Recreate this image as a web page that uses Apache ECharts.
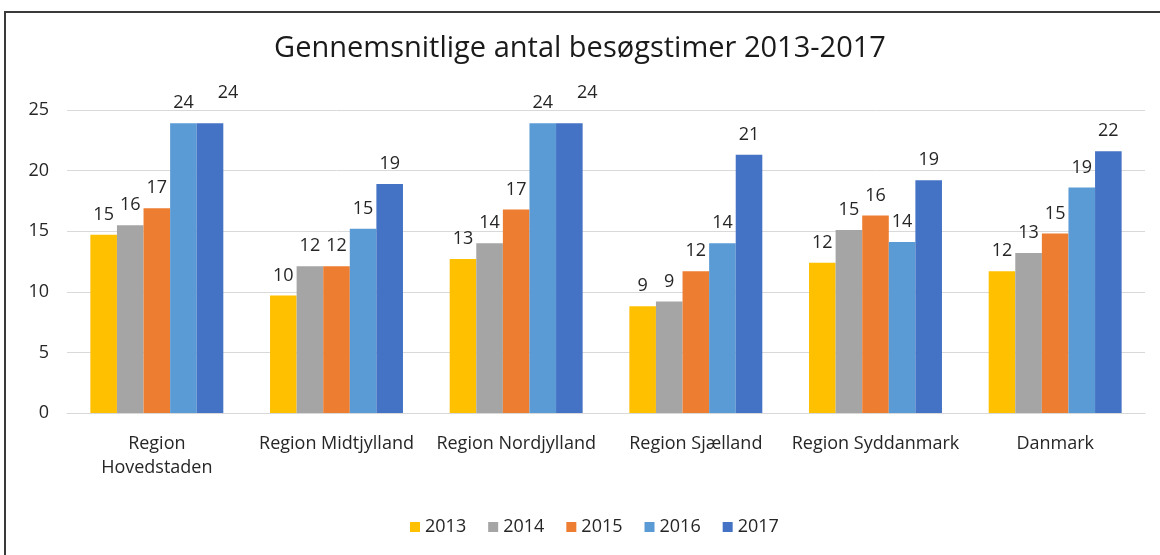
<!DOCTYPE html>
<html>
<head>
<meta charset="utf-8">
<script src="https://cdn.jsdelivr.net/npm/echarts@6/dist/echarts.min.js"></script>
<style>
  html, body { margin: 0; padding: 0; background: #fff; }
  #wrap { position: relative; width: 1160px; height: 555px; overflow: hidden; }
  #frame { position: absolute; left: 4px; top: 11px; width: 1200px; height: 600px;
           border-top: 2px solid #3a3a3a; border-left: 2px solid #3a3a3a; }
  #chart { position: absolute; left: 0; top: 0; width: 1160px; height: 555px; }
</style>
</head>
<body>
<div id="wrap">
  <div id="frame"></div>
  <div id="chart"></div>
</div>
<script>
// regions
const categories = ['Region Hovedstaden', 'Region Midtjylland', 'Region Nordjylland',
  'Region Sjælland', 'Region Syddanmark', 'Danmark'];
const years = ['2013', '2014', '2015', '2016', '2017'];

// average visit hours per year
const y2013 = [14.7, 9.7, 12.7, 8.8, 12.4, 11.7];
const y2014 = [15.5, 12.1, 14.0, 9.2, 15.1, 13.2];
const y2015 = [16.9, 12.1, 16.8, 11.7, 16.3, 14.8];
const y2016 = [23.9, 15.2, 23.9, 14.0, 14.1, 18.6];
const y2017 = [23.9, 18.9, 23.9, 21.3, 19.2, 21.6];

const yTicks = [0, 5, 10, 15, 20, 25];

const colors = ['#FFC000', '#A5A5A5', '#ED7D31', '#5B9BD5', '#4472C4'];
const font = '"Open Sans", "DejaVu Sans", sans-serif';
const textColor = '#262626';

const allData = [y2013, y2014, y2015, y2016, y2017];

// when two neighbouring bars have the same height, nudge the second label away
function seriesData(i) {
  return allData[i].map((v, k) => {
    if (i > 0 && Math.round(allData[i - 1][k]) === Math.round(v) && v > 20) {
      return { value: v, label: { offset: [18, -10] } };
    }
    return v;
  });
}

const chart = echarts.init(document.getElementById('chart'));
chart.setOption({
  color: colors,
  animation: false,
  title: {
    text: 'Gennemsnitlige antal besøgstimer 2013-2017',
    left: 'center',
    top: 29,
    textStyle: { fontFamily: font, fontSize: 29, fontWeight: 'normal', color: '#1a1a1a' }
  },
  legend: {
    data: years,
    top: 513,
    left: 405,
    itemWidth: 10,
    itemHeight: 10,
    itemGap: 22,
    icon: 'rect',
    textStyle: { fontFamily: font, fontSize: 18, color: textColor }
  },
  grid: { left: 67, right: 15, top: 110, bottom: 142 },
  xAxis: {
    type: 'category',
    data: categories,
    axisTick: { show: false },
    axisLine: { lineStyle: { color: '#d9d9d9', width: 1 } },
    axisLabel: {
      interval: 0,
      margin: 19,
      fontFamily: font,
      fontSize: 18,
      color: textColor,
      lineHeight: 24,
      formatter: v => v === 'Region Hovedstaden' ? 'Region\nHovedstaden' : v
    }
  },
  yAxis: {
    type: 'value',
    min: yTicks[0],
    max: yTicks[yTicks.length - 1],
    interval: 5,
    axisLine: { show: false },
    axisTick: { show: false },
    splitLine: { lineStyle: { color: '#d9d9d9', width: 1 } },
    axisLabel: { margin: 18, fontFamily: font, fontSize: 18, color: textColor }
  },
  series: years.map((y, i) => ({
    name: y,
    type: 'bar',
    data: seriesData(i),
    barGap: '0%',
    barCategoryGap: '26%',
    label: {
      show: true,
      position: 'top',
      distance: 11,
      fontFamily: font,
      fontSize: 18,
      color: textColor,
      formatter: p => Math.round(p.value)
    }
  }))
});
</script>
</body>
</html>
